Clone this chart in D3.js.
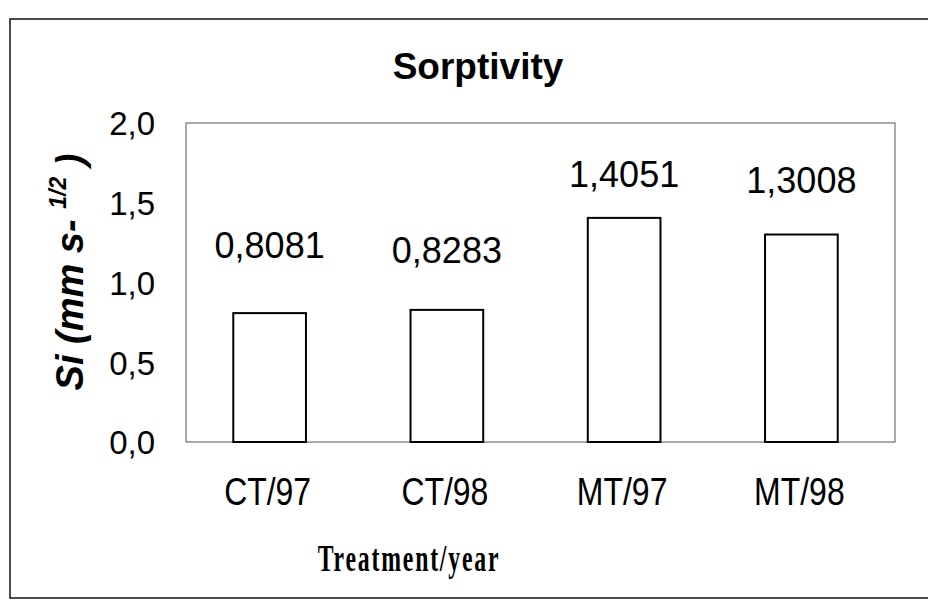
<!DOCTYPE html>
<html>
<head>
<meta charset="utf-8">
<script src="https://cdn.jsdelivr.net/npm/d3@7"></script>
<style>
  html, body { margin: 0; padding: 0; background: #fff; }
  svg { display: block; }
</style>
</head>
<body>
<svg id="chart" width="928" height="616"></svg>
<script>
// ---- data ----
const categories = ["CT/97", "CT/98", "MT/97", "MT/98"];
const values = [0.8081, 0.8283, 1.4051, 1.3008];
const valueLabels = ["0,8081", "0,8283", "1,4051", "1,3008"];
const yTicks = [0, 0.5, 1.0, 1.5, 2.0];
const yTickLabels = ["0,0", "0,5", "1,0", "1,5", "2,0"];

// ---- layout ----
const plot = { left: 186, right: 895, top: 123, bottom: 442 };
const labelGap = [55, 47, 31, 42]; // label baseline gap above bar top (as placed in original)

const svg = d3.select("#chart");

// outer frame (right side runs off the page as in the scan)
svg.append("rect")
  .attr("x", 10).attr("y", 19)
  .attr("width", 930).attr("height", 579)
  .attr("fill", "none").attr("stroke", "#111").attr("stroke-width", 1.5);

const x = d3.scaleBand().domain(categories)
  .range([plot.left - 5, plot.right - 5])
  .paddingInner(0.59).paddingOuter(0.295);
const y = d3.scaleLinear().domain([0, 2]).range([plot.bottom, plot.top]);

// plot area border
svg.append("rect")
  .attr("x", plot.left).attr("y", plot.top)
  .attr("width", plot.right - plot.left).attr("height", plot.bottom - plot.top)
  .attr("fill", "none").attr("stroke", "#555").attr("stroke-width", 1);

// title
svg.append("text")
  .attr("x", 478).attr("y", 79)
  .attr("text-anchor", "middle")
  .attr("font-family", "Liberation Sans, Arial, sans-serif")
  .attr("font-weight", "bold").attr("font-size", 37)
  .attr("fill", "#000")
  .text("Sorptivity");

// y axis (no tick marks, labels only)
const yAxis = d3.axisLeft(y).tickValues(yTicks)
  .tickFormat((d, i) => yTickLabels[i]).tickSize(0).tickPadding(31);
const gy = svg.append("g").attr("transform", `translate(${plot.left},0)`).call(yAxis);
gy.select(".domain").remove();
gy.selectAll("text")
  .attr("font-family", "Liberation Sans, Arial, sans-serif")
  .attr("font-size", 33).attr("fill", "#000")
  .attr("dy", "0.36em");

// x axis (labels only)
const xAxis = d3.axisBottom(x).tickSize(0).tickPadding(0);
const gx = svg.append("g").attr("transform", `translate(0,${plot.bottom})`).call(xAxis);
gx.select(".domain").remove();
gx.selectAll("text")
  .attr("font-family", "Liberation Sans, Arial, sans-serif")
  .attr("font-size", 34).attr("fill", "#000")
  .attr("dy", null)
  .attr("y", 0)
  .attr("transform", "translate(-2,63) scale(0.94,1.16)");

// bars
svg.append("g").selectAll("rect")
  .data(values)
  .join("rect")
  .attr("x", (d, i) => x(categories[i]))
  .attr("y", d => y(d))
  .attr("width", x.bandwidth())
  .attr("height", d => y(0) - y(d))
  .attr("fill", "#fff").attr("stroke", "#000").attr("stroke-width", 2);

// value labels
svg.append("g").selectAll("text")
  .data(values)
  .join("text")
  .attr("x", (d, i) => x(categories[i]) + x.bandwidth() / 2)
  .attr("y", (d, i) => y(d) - labelGap[i])
  .attr("text-anchor", "middle")
  .attr("font-family", "Liberation Sans, Arial, sans-serif")
  .attr("font-size", 36).attr("fill", "#000")
  .text((d, i) => valueLabels[i]);

// x axis title
svg.append("text")
  .attr("transform", "translate(409,571) scale(0.72,1.12)")
  .attr("text-anchor", "middle")
  .attr("font-family", "Liberation Serif, Times New Roman, serif")
  .attr("font-weight", "bold").attr("font-size", 33)
  .attr("letter-spacing", 2.5)
  .attr("fill", "#000")
  .text("Treatment/year");

// y axis title (rotated)
const yt = svg.append("text")
  .attr("transform", "translate(83,272) rotate(-90)")
  .attr("text-anchor", "middle")
  .attr("font-family", "Liberation Sans, Arial, sans-serif")
  .attr("font-weight", "bold").attr("font-style", "italic")
  .attr("font-size", 38).attr("fill", "#000");
yt.append("tspan").text("Si (mm s- ");
yt.append("tspan").attr("font-size", 23).attr("dy", -17).text("1/2");
yt.append("tspan").attr("dy", 17).text(" )");
</script>
</body>
</html>
